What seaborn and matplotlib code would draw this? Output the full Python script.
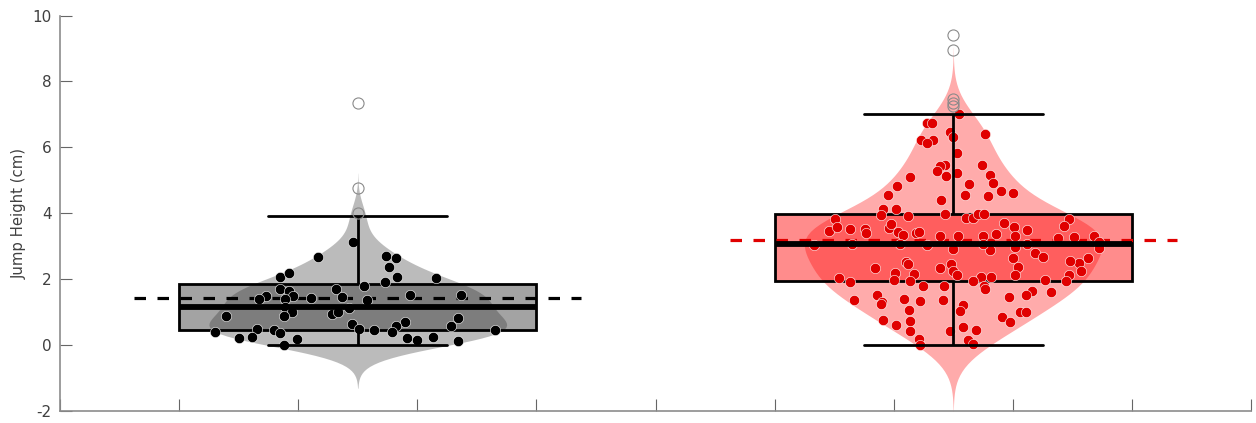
import numpy as np
import pandas as pd
import matplotlib
matplotlib.use("Agg")
import matplotlib.pyplot as plt
import seaborn as sns
from matplotlib.colors import to_rgba

# x positions of the two groups
positions = [2.5, 7.5]
group_names = ["grey", "red"]
violin_colors = ["#333333", "#ff0000"]
dot_colors = ["#000000", "#e00000"]

# group 1: horizontal jitter and jump height (cm) of every plotted dot
g1_dx = [-0.04, -0.33, 0.24, 0.32, 0.26, 0.33, 0.66, -0.65, -0.58, 0.23,
         0.05, -0.18, -0.65, -0.58, -0.77, -0.83, -0.54, -0.61, -0.39, -0.13,
         0.08, 0.44, 0.87, -0.61, -0.07, -1.11, -0.55, -0.62, -0.22, -0.17,
         0.84, 0.40, -0.05, 0.32, 0.78, 0.01, 0.14, 0.29, -1.20, -0.85,
         -0.70, -0.65, 1.15, -1.00, -0.89, -0.51, -0.62, 0.41, 0.50, 0.63,
         0.84]
g1_val = [3.14, 2.66, 2.69, 2.63, 2.37, 2.06, 2.04, 2.07, 2.17, 1.90,
          1.80, 1.71, 1.71, 1.65, 1.49, 1.40, 1.47, 1.38, 1.41, 1.44,
          1.36, 1.53, 1.51, 1.15, 1.12, 0.88, 1.00, 0.87, 0.94, 1.01,
          0.82, 0.69, 0.64, 0.57, 0.57, 0.48, 0.45, 0.40, 0.40, 0.48,
          0.44, 0.36, 0.44, 0.20, 0.25, 0.17, 0.00, 0.21, 0.14, 0.24,
          0.13]
# values with no dot: whisker end, and the outliers
g1_hidden = [3.90]
g1_out = [4.00, 4.78, 7.36]

# group 2
g2_dx = [-0.22, -0.18, 0.05, -0.03, 0.00, 0.27, -0.27, -0.17, -0.22, 0.03,
         -0.07, -0.11, -0.14, 0.03, -0.06, 0.24, 0.31, 0.33, 0.13, -0.36,
         -0.47, -0.55, 0.40, 0.50, 0.10, 0.29, -0.10, -0.59, -0.48, -0.61,
         -0.38, -0.07, 0.11, 0.17, 0.21, 0.26, -0.99, 0.97, 0.93, 0.43,
         0.51, 0.62, -1.04, -0.98, -0.87, -0.74, -0.73, -0.54, -0.52, -0.46,
         -0.42, -0.31, -0.29, -0.11, 0.04, 0.25, 0.36, 0.52, 1.01, 1.18,
         0.88, 1.22, 1.22, -1.17, -0.22, 0.00, 0.31, 0.52, 0.69, 0.75,
         0.50, 1.13, 1.06, 0.98, -0.40, -0.38, -0.02, 0.54, -0.66, -0.11,
         -0.49, -0.33, 0.00, 0.03, 1.07, 0.97, 0.52, 0.23, 0.32, -0.96,
         -0.87, -0.50, -0.36, 0.17, 0.26, 0.27, 0.77, 0.95, -0.25, -0.08,
         0.66, 0.61, 0.82, 0.47, -0.64, -0.60, -0.61, -0.83, -0.41, -0.28,
         -0.09, 0.08, 0.06, -0.37, 0.56, 0.61, 0.41, 0.48, -0.59, -0.36,
         -0.48, -0.36, -0.03, 0.08, 0.19, -0.29, -0.28, 0.12, 0.17, -0.45,
         0.25, 0.62, -0.85]
g2_val = [6.74, 6.74, 7.01, 6.48, 6.30, 6.40, 6.23, 6.23, 6.13, 5.82,
          5.47, 5.42, 5.27, 5.22, 5.14, 5.47, 5.17, 4.91, 4.88, 5.10,
          4.84, 4.56, 4.68, 4.60, 4.56, 4.51, 4.39, 4.13, 4.13, 3.95,
          3.90, 3.97, 3.85, 3.85, 3.98, 3.98, 3.83, 3.83, 3.61, 3.69,
          3.59, 3.48, 3.47, 3.57, 3.51, 3.52, 3.39, 3.55, 3.67, 3.42,
          3.34, 3.39, 3.44, 3.32, 3.30, 3.30, 3.36, 3.32, 3.28, 3.30,
          3.24, 3.12, 2.94, 3.04, 3.04, 2.92, 2.87, 2.96, 2.79, 2.67,
          2.65, 2.63, 2.48, 2.55, 2.53, 2.46, 2.46, 2.38, 2.35, 2.35,
          2.18, 2.15, 2.23, 2.13, 2.23, 2.13, 2.13, 2.07, 2.07, 2.03,
          1.90, 1.98, 1.95, 1.93, 1.80, 1.69, 1.97, 1.93, 1.78, 1.80,
          1.64, 1.52, 1.62, 1.45, 1.52, 1.30, 1.24, 1.37, 1.40, 1.34,
          1.37, 1.20, 1.03, 1.05, 0.99, 0.99, 0.86, 0.71, 0.75, 0.73,
          0.59, 0.41, 0.43, 0.53, 0.45, 0.18, 0.00, 0.15, 0.02, 3.05,
          3.06, 3.05, 3.07]
g2_hidden = []
g2_out = [7.25, 7.34, 7.47, 8.96, 9.42]

dxs = [g1_dx, g2_dx]
vals = [g1_val, g2_val]
hiddens = [g1_hidden, g2_hidden]
outs = [g1_out, g2_out]

# long tables: every value for the boxes, outliers left out of the violins
box_frames, vio_frames = [], []
for name, pos, v, h, o in zip(group_names, positions, vals, hiddens, outs):
    box_frames.append(pd.DataFrame({"group": name, "pos": pos,
                                    "height": list(v) + h + o}))
    vio_frames.append(pd.DataFrame({"group": name, "pos": pos,
                                    "height": list(v) + h}))
df_box = pd.concat(box_frames, ignore_index=True)
df_vio = pd.concat(vio_frames, ignore_index=True)

sns.set_style("white")
plt.rcParams["font.family"] = ["DejaVu Sans"]
plt.rcParams["axes.unicode_minus"] = False

fig = plt.figure(figsize=(12.56, 4.23), dpi=100)
ax = fig.add_axes([0.0478, 0.029, 0.9482, 0.934])

pal = dict(zip(group_names, violin_colors))

# violins
sns.violinplot(data=df_vio, x="pos", y="height", hue="group", palette=pal,
               native_scale=True, inner=None, cut=3, bw_adjust=1.1,
               width=0.5, density_norm="width", linewidth=0, saturation=1,
               alpha=0.33, legend=False, ax=ax)

# boxes
sns.boxplot(data=df_box, x="pos", y="height", hue="group", palette=pal,
            native_scale=True, width=0.6, whis=1.5, saturation=1,
            linecolor="k", linewidth=2,
            medianprops=dict(linewidth=4.2),
            flierprops=dict(marker="o", markerfacecolor="none",
                            markeredgecolor="#8a8a8a", markersize=8,
                            markeredgewidth=0.8),
            legend=False, ax=ax)
for p in ax.patches:
    p.set_facecolor(to_rgba(p.get_facecolor(), 0.45))
    p.set_zorder(2)
for ln in ax.lines:
    ln.set_zorder(4)

# mean lines
for name, c in zip(group_names, dot_colors):
    sub = df_box[df_box["group"] == name]
    m = sub["height"].mean()
    pos = sub["pos"].iloc[0]
    ax.plot([pos - 1.875, pos + 1.875], [m, m], color=c, lw=2.3,
            ls=(0, (3.6, 3.6)), zorder=2.5)

# jittered dots
for pos, dx, v, c in zip(positions, dxs, vals, dot_colors):
    sns.scatterplot(x=pos + np.array(dx), y=v, color=c, s=55,
                    edgecolor="white", linewidth=0.4, zorder=3,
                    legend=False, ax=ax)

ax.set_xlim(0, 10)
ax.set_ylim(-2, 10)
ax.set_xticks(np.arange(0, 11, 1))
ax.set_xticklabels([])
ax.set_yticks(np.arange(-2, 11, 2))
ax.set_xlabel("")
ax.set_ylabel("Jump Height (cm)", fontsize=10.7, color="#404040")
ax.tick_params(bottom=True, left=True, direction="in", length=8.6,
               width=0.8, color="#666666", labelsize=11,
               labelcolor="#404040", pad=6)
for s in ["top", "right"]:
    ax.spines[s].set_visible(False)
for s in ["left", "bottom"]:
    ax.spines[s].set_color("#8c8c8c")
    ax.spines[s].set_linewidth(1.2)

fig.savefig("out.png", dpi=100)
